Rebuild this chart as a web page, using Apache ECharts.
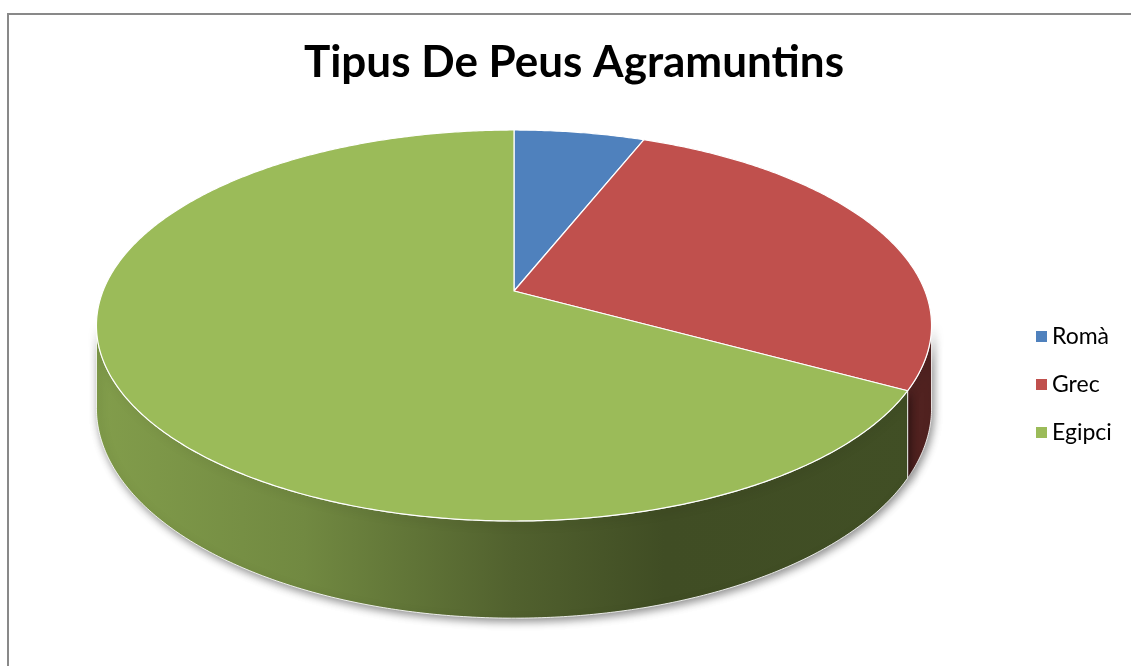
<!DOCTYPE html>
<html>
<head>
<meta charset="utf-8">
<script src="https://cdn.jsdelivr.net/npm/echarts@6/dist/echarts.min.js"></script>
<style>html,body{margin:0;padding:0;background:#fff}#main{width:1131px;height:666px}</style>
</head>
<body>
<div id="main"></div>
<script>
const titleText = 'Tipus De Peus Agramuntins';
const categories = ['Romà', 'Grec', 'Egipci'];
const values = [6, 27, 67];
const colors = ['#4F81BD', '#C0504D', '#9BBB59'];

// geometry of the tilted disc (perspective)
const G = { cx: 514, cy: 291, R: 411, A: 189.4, b: 0.1765, D: 80 };
const total = values.reduce((a, c) => a + c, 0);

function proj(theta, drop) {
  const u = Math.sin(theta), v = -Math.cos(theta);
  const k = 1 / (1 - G.b * v);
  return [G.cx + G.R * u * k, G.cy + G.A * v * k + (drop ? G.D * k : 0)];
}
function shade(hex, f) {
  const n = parseInt(hex.slice(1), 16);
  const r = Math.round(((n >> 16) & 255) * f), g = Math.round(((n >> 8) & 255) * f), b = Math.round((n & 255) * f);
  return 'rgb(' + r + ',' + g + ',' + b + ')';
}
const thetaR = Math.acos(-G.b), thetaL = 2 * Math.PI - Math.acos(-G.b);

function makeRender(i) {
  return function (params, api) {
    let before = 0;
    for (let j = 0; j < i; j++) before += values[j];
    const start = before / total * 2 * Math.PI;
    const end = start + api.value(0) / total * 2 * Math.PI;
    const step = Math.PI / 360;
    const children = [];
    // wall
    const ws = Math.max(start, thetaR), we = Math.min(end, thetaL);
    if (we > ws) {
      const top = [], bot = [];
      for (let t = ws; t < we; t += step) { top.push(proj(t, false)); bot.push(proj(t, true)); }
      top.push(proj(we, false)); bot.push(proj(we, true));
      const pts = top.concat(bot.reverse());
      const c = colors[i];
      children.push({
        type: 'polygon', z2: 1,
        shape: { points: pts },
        style: {
          fill: { type: 'linear', x: 95, y: 0, x2: 932, y2: 0, global: true,
            colorStops: [
              { offset: 0, color: shade(c, 0.84) },
              { offset: 0.25, color: shade(c, 0.73) },
              { offset: 0.5, color: shade(c, 0.52) },
              { offset: 0.68, color: shade(c, 0.41) },
              { offset: 1, color: shade(c, 0.42) }
            ] },
          stroke: 'rgba(255,255,255,0.85)', lineWidth: 1,
          shadowBlur: 8, shadowColor: 'rgba(0,0,0,0.45)', shadowOffsetX: 2, shadowOffsetY: 3
        }
      });
    }
    // top face
    const pts = [[G.cx, G.cy]];
    for (let t = start; t < end; t += step) pts.push(proj(t, false));
    pts.push(proj(end, false));
    children.push({
      type: 'polygon', z2: 10,
      shape: { points: pts },
      style: { fill: colors[i], stroke: '#ffffff', lineWidth: 1.2, lineJoin: 'round' }
    });
    return { type: 'group', children: children };
  };
}

const chart = echarts.init(document.getElementById('main'), null, { renderer: 'canvas' });
chart.setOption({
  animation: false,
  backgroundColor: '#ffffff',
  title: {
    text: titleText, left: 569, top: 36, textAlign: 'center',
    textStyle: { fontFamily: 'Lato', fontWeight: 'bold', fontSize: 44, color: '#000' }
  },
  legend: {
    orient: 'vertical', left: 1031, top: 320,
    itemWidth: 11, itemHeight: 11, itemGap: 25, icon: 'rect',
    textStyle: { fontFamily: 'Lato', fontSize: 23, color: '#000', padding: [0, 0, 0, 0] },
    data: categories.map((n, i) => ({ name: n, itemStyle: { color: colors[i] } }))
  },
  graphic: [{
    type: 'rect', shape: { x: 8, y: 14, width: 1200, height: 700 },
    style: { fill: 'none', stroke: '#898989', lineWidth: 2 }, silent: true
  }],
  series: categories.map((n, i) => ({
    type: 'custom', name: n, coordinateSystem: 'none',
    itemStyle: { color: colors[i] },
    renderItem: makeRender(i),
    data: [values[i]]
  }))
});
</script>
</body>
</html>
